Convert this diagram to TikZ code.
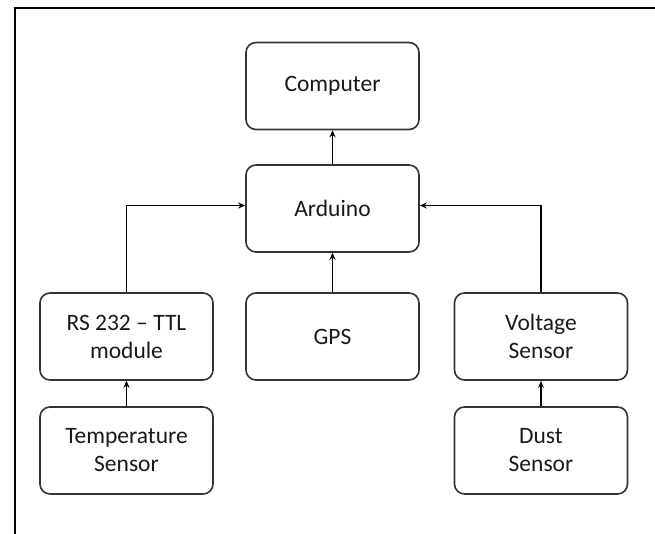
\documentclass[tikz,border=0pt]{standalone}
\usepackage{fontspec}
\usepackage{tikz}
\usetikzlibrary{arrows.meta}
\newfontfamily\boxfont[Ligatures=TeX]{Carlito}
\tikzset{
    blkbox/.style={draw=black!80, line width=1.6pt, rounded corners=10pt, minimum width=173pt, minimum height=87pt, align=center, text=black!90, font=\boxfont\fontsize{23.5}{28}\selectfont},
    link/.style={->, >={Stealth[length=7pt, width=6pt]}, line width=1.6pt},
    frameline/.style={line width=2.5pt}
}
\begin{document}
\begin{tikzpicture}[x=1pt, y=-1pt]
            \useasboundingbox (0,0) rectangle (655,534);
            \draw[frameline] (15,534) -- (15,8) -- (655,8);

            \node[blkbox] (comp) at (332.5,86) {Computer};
            \node[blkbox] (ard) at (332.5,208.5) {Arduino};
            \node[blkbox] (rs) at (126.5,336.5) {RS 232 -- TTL\\module};
            \node[blkbox] (gps) at (332.5,336.5) {GPS};
            \node[blkbox] (volt) at (541,336.5) {Voltage\\Sensor};
            \node[blkbox] (temp) at (126.5,450.5) {Temperature\\Sensor};
            \node[blkbox] (dust) at (541,450.5) {Dust\\Sensor};

            \draw[link] (ard) -- (comp);
            \draw[link] (gps) -- (ard);
            \draw[link] (rs.north) |- ([yshift=3pt]ard.west);
            \draw[link] (volt.north) |- ([yshift=3pt]ard.east);
            \draw[link] (temp) -- (rs);
            \draw[link] (dust) -- (volt);
        \end{tikzpicture}
\end{document}
